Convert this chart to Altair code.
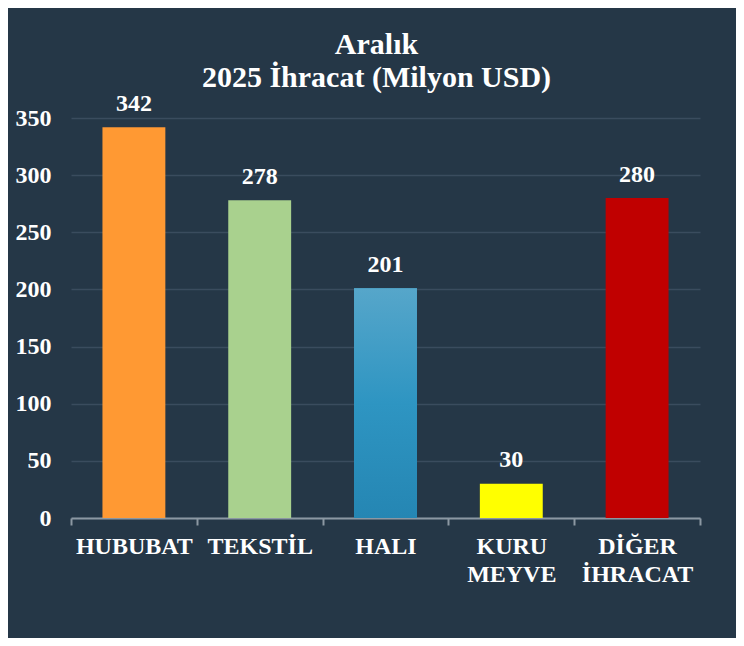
import altair as alt
import pandas as pd

# ---- data ----
categories = ["HUBUBAT", "TEKSTİL", "HALI", "KURU MEYVE", "DİĞER İHRACAT"]
values = [342, 278, 201, 30, 280]
bar_colors = ["#FF9933", "#A9D18E", "#3A9CC6", "#FFFF00", "#C00000"]
title_lines = ["Aralık", "2025 İhracat (Milyon USD)"]
y_ticks = [0, 50, 100, 150, 200, 250, 300, 350]

df = pd.DataFrame({"kategori": categories, "deger": values})

FONT = "Liberation Serif"
BG = "#253747"
AXIS_GRAY = "#8C98A3"
GRID = "#3A4C5E"

x_enc = alt.X(
    "kategori:N",
    sort=categories,
    scale=alt.Scale(paddingInner=0, paddingOuter=0),
    axis=alt.Axis(
        title=None,
        labelAngle=0,
        labelExpr="split(datum.label, ' ')",
        labelLineHeight=28,
        labelBaseline="top",
        labelPadding=9,
        labelFont=FONT,
        labelFontSize=24,
        labelFontWeight="bold",
        labelColor="white",
        tickSize=7,
        tickWidth=2,
        tickColor=AXIS_GRAY,
        tickBand="extent",
        domainColor=AXIS_GRAY,
        domainWidth=2,
        grid=False,
    ),
)

y_enc = alt.Y(
    "deger:Q",
    scale=alt.Scale(domain=[0, 350], nice=False),
    axis=alt.Axis(
        title=None,
        values=y_ticks,
        domain=False,
        ticks=False,
        tickSize=0,
        labelPadding=20,
        labelFont=FONT,
        labelFontSize=24,
        labelFontWeight="bold",
        labelColor="white",
        grid=True,
        gridColor=GRID,
        gridWidth=1.5,
    ),
)

base = alt.Chart(df).encode(x=x_enc, y=y_enc)

bars = base.mark_bar(width=alt.RelativeBandSize(0.5)).encode(
    color=alt.Color(
        "kategori:N",
        sort=categories,
        scale=alt.Scale(domain=categories, range=bar_colors),
        legend=None,
    )
)

gradient_bar = base.transform_filter(alt.datum.kategori == "HALI").mark_bar(
    width=alt.RelativeBandSize(0.5),
    color=alt.Gradient(
        gradient="linear",
        stops=[
            alt.GradientStop(color="#2586B3", offset=0),
            alt.GradientStop(color="#2E95C2", offset=0.5),
            alt.GradientStop(color="#56A6CA", offset=1),
        ],
        x1=0, x2=0, y1=1, y2=0,
    ),
)

labels = base.mark_text(
    dy=-16.5,
    baseline="alphabetic",
    font=FONT,
    fontSize=24,
    fontWeight="bold",
    color="white",
).encode(text="deger:Q")

chart = (
    alt.layer(bars, gradient_bar, labels)
    .properties(
        width=629,
        height=400,
        autosize=alt.AutoSizeParams(type="none"),
        padding={"left": 63, "top": 110, "right": 36, "bottom": 120},
        background=BG,
        title=alt.TitleParams(
            text=title_lines,
            font=FONT,
            fontSize=30,
            fontWeight="bold",
            color="white",
            lineHeight=33,
            anchor="middle",
            dx=-9,
            offset=-1,
        ),
    )
    .configure_view(stroke=None)
)

chart.save("out.html", embed_options={"renderer": "svg", "actions": False})
